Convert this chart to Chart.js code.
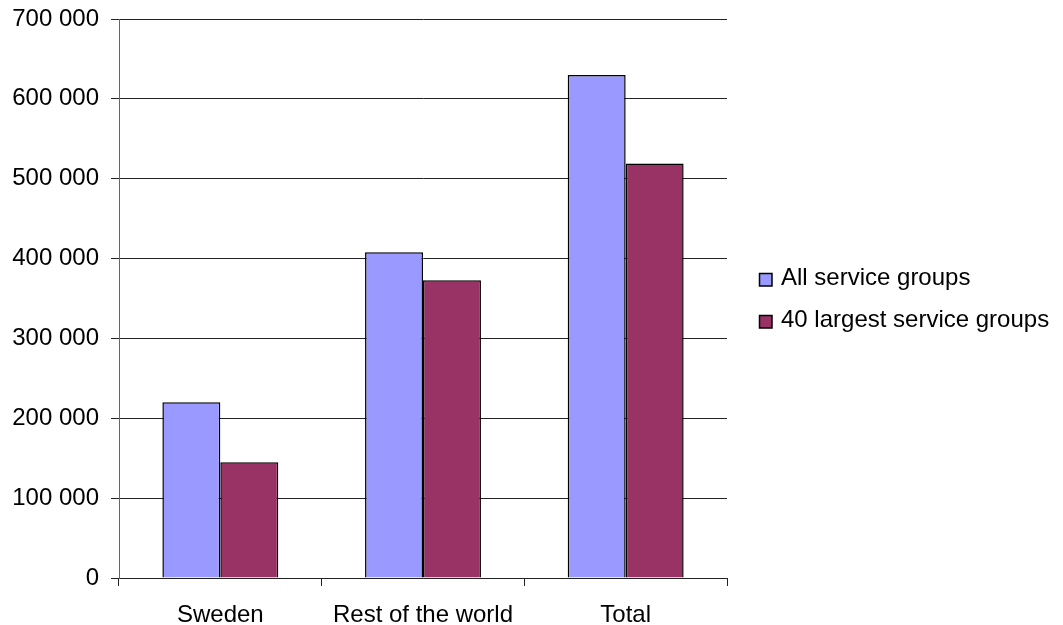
<!DOCTYPE html>
<html>
<head>
<meta charset="utf-8">
<script src="https://cdn.jsdelivr.net/npm/chart.js@4"></script>
<style>
  html, body { margin: 0; padding: 0; background: #fff; }
  #wrap { width: 1063px; height: 625px; position: relative; }
</style>
</head>
<body>
<div id="wrap"><canvas id="c"></canvas></div>
<script>
const categories = ["Sweden", "Rest of the world", "Total"];
const seriesNames = ["All service groups", "40 largest service groups"];
const allServiceGroups = [220000, 408000, 630000];
const largest40Groups = [145000, 373000, 519000];
const yTicks = [0, 100000, 200000, 300000, 400000, 500000, 600000, 700000];

const FONT = "'Liberation Sans', Arial, sans-serif";
const colors = ["#9999FF", "#993366"];

const legendPlugin = {
  id: 'customLegend',
  afterDraw(chart) {
    const ctx = chart.ctx;
    ctx.save();
    ctx.font = "24px " + FONT;
    ctx.textBaseline = 'alphabetic';
    ctx.textAlign = 'left';
    const baselines = [285, 327];
    chart.data.datasets.forEach((ds, i) => {
      const b = baselines[i];
      const top = b - 12;
      ctx.fillStyle = ds.backgroundColor;
      ctx.fillRect(759, top, 13, 13);
      ctx.strokeStyle = '#000';
      ctx.lineWidth = 1.5;
      ctx.strokeRect(759.5, top + 0.5, 12.5, 12.5);
      ctx.fillStyle = '#000';
      ctx.fillText(ds.label, 781, b);
    });
    ctx.restore();
  }
};

new Chart(document.getElementById('c'), {
  type: 'bar',
  data: {
    labels: categories,
    datasets: [
      { label: seriesNames[0], data: allServiceGroups, backgroundColor: colors[0], borderColor: '#000', borderWidth: 1.5 },
      { label: seriesNames[1], data: largest40Groups, backgroundColor: colors[1], borderColor: '#000', borderWidth: 1.5 }
    ]
  },
  options: {
    responsive: true,
    maintainAspectRatio: false,
    animation: false,
    layout: { padding: { left: 0, right: 336, top: 19, bottom: 0 } },
    datasets: { bar: { barPercentage: 1.0, categoryPercentage: 0.572 } },
    plugins: { legend: { display: false }, tooltip: { enabled: false } },
    scales: {
      x: {
        afterFit(scale) { scale.height = 47; scale.paddingLeft = 0; scale.paddingRight = 0; },
        grid: { display: true, drawOnChartArea: false, drawTicks: true, tickLength: 8, offset: true, color: '#222' },
        border: { display: true, color: '#222' },
        ticks: { color: '#000', font: { family: FONT, size: 24 }, padding: 15 }
      },
      y: {
        min: 0, max: 700000,
        afterFit(scale) { scale.width = 119; scale.paddingTop = 0; scale.paddingBottom = 0; },
        afterBuildTicks(scale) { scale.ticks = yTicks.map(v => ({ value: v })); },
        grid: { color: '#222', tickLength: 8, drawTicks: true },
        border: { display: true, color: '#666' },
        ticks: {
          color: '#000', font: { family: FONT, size: 24 }, padding: 12,
          callback: v => String(v).replace(/\B(?=(\d{3})+(?!\d))/g, ' ')
        }
      }
    }
  },
  plugins: [legendPlugin]
});
</script>
</body>
</html>
